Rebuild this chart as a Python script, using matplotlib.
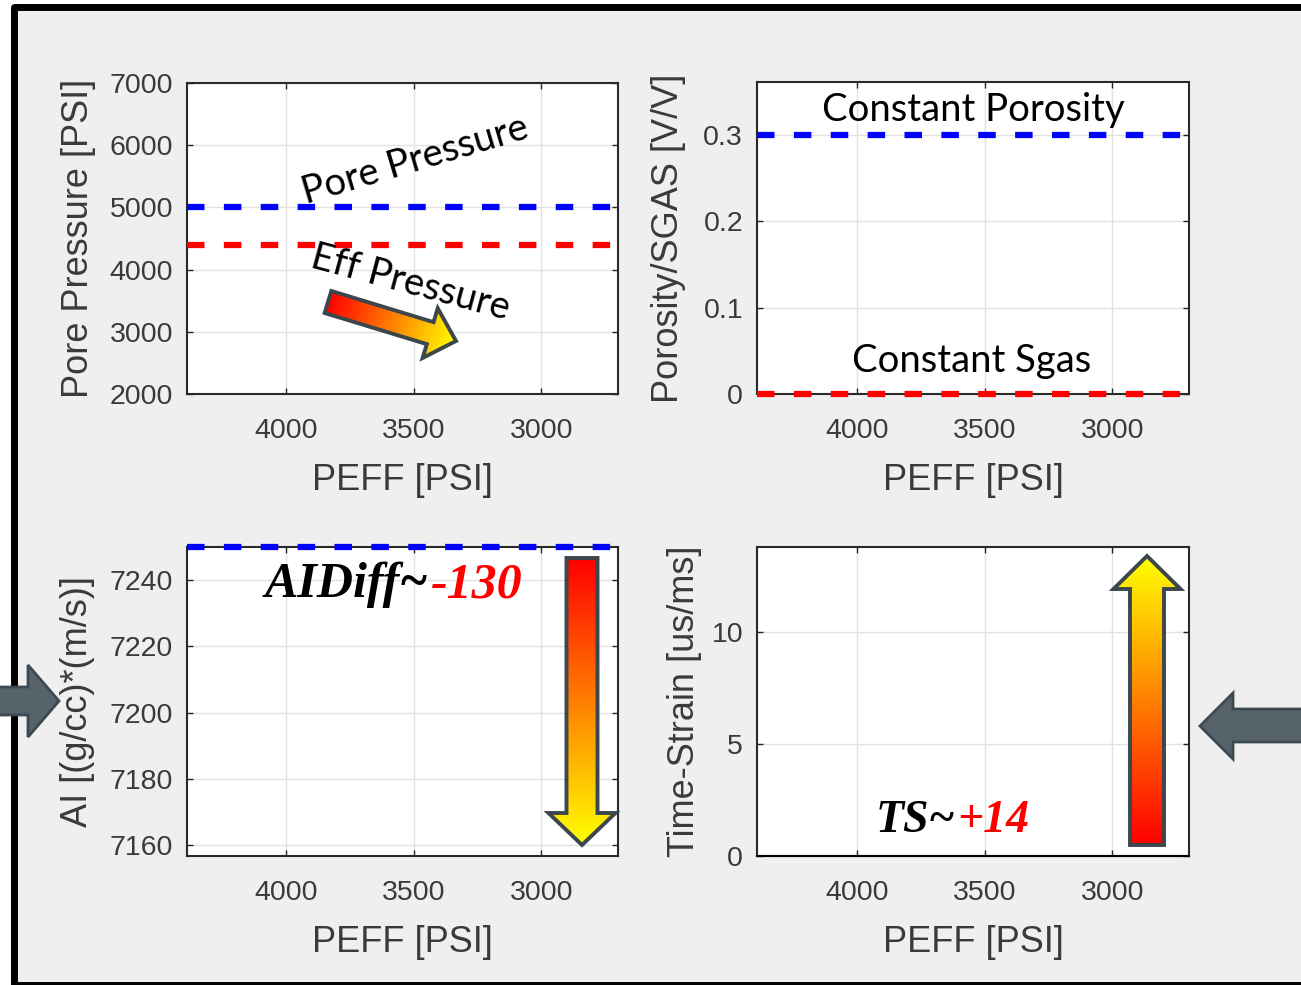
import numpy as np
import matplotlib
matplotlib.use('Agg')
import matplotlib.pyplot as plt
from matplotlib.patches import Polygon, Rectangle
from matplotlib.colors import LinearSegmentedColormap

W, H = 1301, 985

# data
peff = [4390, 2700]
pore_pressure = [5000, 5000]
eff_pressure = [4400, 4400]
porosity = [0.3, 0.3]
sgas = [0.0, 0.0]
ai = [7250, 7250]
time_strain = [0.0, 0.0]

peff_ticks = [4000, 3500, 3000]
pp_ticks = [2000, 3000, 4000, 5000, 6000, 7000]
por_ticks = [0, 0.1, 0.2, 0.3]
por_ticklabels = ['0', '0.1', '0.2', '0.3']
ai_ticks = [7160, 7180, 7200, 7220, 7240]
ts_ticks = [0, 5, 10]

plt.rcParams['font.family'] = ['Liberation Sans', 'DejaVu Sans']

fig = plt.figure(figsize=(W / 100, H / 100), dpi=100)
fig.patch.set_facecolor('white')

# slide background with black frame
bg = fig.add_axes([0, 0, 1, 1], zorder=-5)
bg.set_xlim(0, W)
bg.set_ylim(H, 0)
bg.axis('off')
bg.add_patch(Rectangle((13.5, 6.5), W + 40, H - 6.5, facecolor='#efefef',
                       edgecolor='black', lw=5, joinstyle='round'))


def setup(ax, yticks, ylim, ylabel, ylab_x, yticklabels=None):
    ax.set_xlim(peff[0], peff[-1])
    ax.set_ylim(*ylim)
    ax.set_xticks(peff_ticks)
    ax.set_yticks(yticks)
    if yticklabels:
        ax.set_yticklabels(yticklabels)
    ax.set_facecolor('white')
    ax.grid(True, color='#e2e2e2', lw=1)
    ax.set_axisbelow(True)
    ax.tick_params(direction='in', length=4, width=1, color='#262626',
                   labelcolor='#3a3a3a', labelsize=20.5, top=True, right=True)
    ax.tick_params(axis='x', pad=17)
    ax.tick_params(axis='y', pad=10)
    for s in ax.spines.values():
        s.set_color('#2a2a2a')
        s.set_linewidth(1.5)
    ax.set_xlabel('PEFF [PSI]', fontsize=26, color='#3a3a3a')
    ax.set_ylabel(ylabel, fontsize=26, color='#3a3a3a')
    ax.xaxis.set_label_coords(0.5, -0.222)
    ax.yaxis.set_label_coords(ylab_x, 0.5)


dash = dict(lw=4.5, dashes=(2.8, 3.1), clip_on=False, zorder=4)

ax1 = fig.add_axes([187 / W, 1 - 394 / H, 431 / W, 311 / H])
setup(ax1, pp_ticks, (2000, 7000), 'Pore Pressure [PSI]', -0.212)
ax1.plot(peff, pore_pressure, color='#0000ff', **dash)
ax1.plot(peff, eff_pressure, color='#ff0000', **dash)

ax2 = fig.add_axes([757 / W, 1 - 394 / H, 432 / W, 312 / H])
setup(ax2, por_ticks, (0, 0.361), 'Porosity/SGAS [V/V]', -0.165, por_ticklabels)
ax2.plot(peff, porosity, color='#0000ff', **dash)
ax2.plot(peff, sgas, color='#ff0000', **dash)

ax3 = fig.add_axes([187 / W, 1 - 856 / H, 431 / W, 309 / H])
setup(ax3, ai_ticks, (7156.7, 7250), 'AI [(g/cc)*(m/s)]', -0.214)
ax3.plot(peff, ai, color='#0000ff', **dash)

ax4 = fig.add_axes([757 / W, 1 - 856 / H, 432 / W, 309 / H])
setup(ax4, ts_ticks, (0, 13.8), 'Time-Strain [us/ms]', -0.128)
ax4.plot(peff, time_strain, color='black', lw=1.5, clip_on=False, zorder=4)

# annotation layer in pixel units
ov = fig.add_axes([0, 0, 1, 1], zorder=10)
ov.set_xlim(0, W)
ov.set_ylim(H, 0)
ov.axis('off')

ry = LinearSegmentedColormap.from_list('ry', ['#ff0000', '#ffff00'])


def grad_arrow(tail, tip, shaft_w, head_w, head_len):
    tail = np.array(tail, float)
    tip = np.array(tip, float)
    d = tip - tail
    L = np.hypot(*d)
    u = d / L
    n = np.array([-u[1], u[0]])
    base = tip - u * head_len
    pts = [tail + n * shaft_w / 2, base + n * shaft_w / 2, base + n * head_w / 2, tip,
           base - n * head_w / 2, base - n * shaft_w / 2, tail - n * shaft_w / 2]
    pts = np.array(pts)
    x0, x1 = pts[:, 0].min(), pts[:, 0].max()
    y0, y1 = pts[:, 1].min(), pts[:, 1].max()
    gx, gy = np.meshgrid(np.linspace(x0, x1, 200), np.linspace(y0, y1, 200))
    t = ((gx - tail[0]) * u[0] + (gy - tail[1]) * u[1]) / L
    poly = Polygon(pts, closed=True, fc='none', ec='#3b464d', lw=2.8,
                   joinstyle='miter', zorder=6)
    im = ov.imshow(t, extent=(x0, x1, y0, y1), origin='lower', cmap=ry,
                   vmin=0, vmax=1, aspect='auto', interpolation='bilinear', zorder=5)
    ov.add_patch(poly)
    im.set_clip_path(poly)


grad_arrow((328, 302), (456, 341), 23, 52, 27)
grad_arrow((582, 558), (582, 845), 31, 67, 32)
grad_arrow((1147, 845), (1147, 556), 34, 67, 33)

gray = dict(closed=True, fc='#56636b', ec='#3d4950', lw=2, zorder=6)
ov.add_patch(Polygon([(-5, 687), (28, 687), (28, 665), (59, 701), (28, 737),
                      (28, 715), (-5, 715)], **gray))
ov.add_patch(Polygon([(1310, 709), (1233, 709), (1233, 693), (1200, 726),
                      (1233, 759), (1233, 742), (1310, 742)], **gray))

note = dict(fontfamily='Lato', fontsize=27.5, color='black', ha='center', va='center', zorder=7)
ov.text(415, 160, 'Pore Pressure', rotation=16.5, **note)
ov.text(410, 283, 'Eff Pressure', rotation=-15, **note)
ov.text(973, 110, 'Constant Porosity', **note)
ov.text(972, 361, 'Constant Sgas', **note)

serif = dict(fontfamily='Liberation Serif', fontweight='bold',
             fontstyle='italic', va='baseline', ha='left', zorder=7)
renderer = fig.canvas.get_renderer()
for x, y, a, b, fs in [(265, 597, 'AIDiff~', '-130', 36), (876, 832, 'TS~', '+14', 33)]:
    t1 = ov.text(x, y, a, color='black', fontsize=fs, **serif)
    w = t1.get_window_extent(renderer).width
    ov.text(x + w + 2, y, b, color='#ff0000', fontsize=fs, **serif)

ov.set_xlim(0, W)
ov.set_ylim(H, 0)

fig.savefig('out.png', dpi=100)
